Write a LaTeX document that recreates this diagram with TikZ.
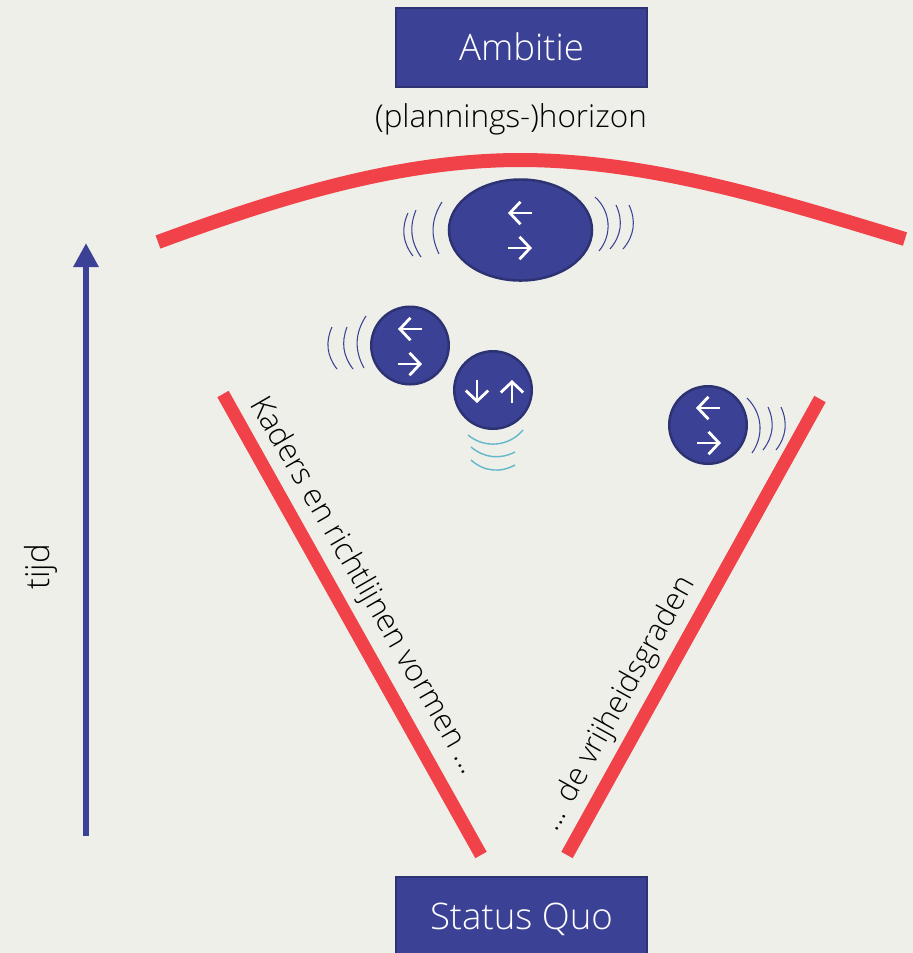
\documentclass[tikz,border=0pt]{standalone}
\usepackage{fontspec}
\setmainfont{Open Sans Light}[BoldFont={Open Sans}]
\usetikzlibrary{arrows.meta,shapes.geometric}
\definecolor{achtergrond}{HTML}{EEEFE9}
\definecolor{kaderblauw}{HTML}{3B4195}
\definecolor{randblauw}{HTML}{2D3272}
\definecolor{kaderrood}{HTML}{F14249}
\definecolor{golfteal}{HTML}{62B8CA}
\tikzset{
    kaderbox/.style={draw=randblauw, fill=kaderblauw, line width=0.6pt, text=white, minimum width=2.5cm, minimum height=0.79cm, text height=7.4pt, text depth=0pt, font=\fontsize{10.4}{12}\selectfont},
    bal/.style={draw=randblauw, fill=kaderblauw, line width=0.7pt, circle, minimum size=0.775cm, inner sep=0pt},
    pijltje/.style={white, line width=0.8pt, -{Straight Barb[length=3pt,width=6.4pt]}},
    golf/.style={kaderblauw, line width=0.3pt},
    tealgolf/.style={golfteal, line width=0.4pt},
    roodlijn/.style={kaderrood, line width=1.3mm},
    schuin/.style={font=\fontsize{8.8}{10}\selectfont}
}
\begin{document}
\begin{tikzpicture}[x=0.01cm,y=-0.01cm]
    \useasboundingbox (0,0) rectangle (913,953);
    \clip (0,0) rectangle (913,953);
    \fill[achtergrond] (0,0) rectangle (913,953);

    \node[kaderbox] (ambitie) at (521.5,47.5) {Ambitie};
    \node[kaderbox] (statusquo) at (521.5,916.5) {Status Quo};
    \node (horizon) at (511,119) [font=\fontsize{8.95}{10}\selectfont] {(plannings-)horizon};

    \draw[kaderrood, line width=1.4mm] (158,242) .. controls (280,197) and (400,160) .. (520,160) .. controls (650,160) and (780,201) .. (905,239);
    \draw[roodlijn] (223,394) -- (481,855);
    \draw[roodlijn] (820,399) -- (567,855);

    \node[schuin, rotate=-60] (kaders) at (364,586) {Kaders en richtlijnen vormen ...};
    \node[schuin, rotate=61, font=\fontsize{8.7}{10}\selectfont] (vrijheid) at (619,704) {... de vrijheidsgraden};

    \coordinate (tijdstart) at (86,836);
    \coordinate (tijdeind) at (86,243);
    \draw[kaderblauw, line width=0.6mm, -{Triangle[length=0.24cm,width=0.24cm]}] (tijdstart) -- (tijdeind);
    \node[rotate=90, font=\fontsize{9.4}{10}\selectfont] (tijd) at (41,567) {tijd};

    \node[bal, ellipse, minimum width=1.43cm, minimum height=1.01cm] (balgroot) at (520.5,230) {};
    \node[bal] (ballinks) at (410,345.5) {};
    \node[bal] (balmidden) at (493,390) {};
    \node[bal] (balrechts) at (708,425) {};

    \foreach \xa/\y in {532/213,422/329,720/408}
        \draw[pijltje] (\xa,\y) -- ++(-24,0);
    \foreach \x/\y in {508/248,398/364,697/443}
        \draw[pijltje] (\x,\y) -- ++(24,0);
    \draw[pijltje] (477,380) -- (477,403);
    \draw[pijltje] (512,403) -- (512,380);

    \draw[golf] (442,202) to[bend right=29] (439,254);
    \draw[golf] (416,210) to[bend right=28] (421,257);
    \draw[golf] (408,213) to[bend right=31] (413,256);
    \draw[golf] (595,197) to[bend left=44] (599,251);
    \draw[golf] (616,205) to[bend left=33] (610,249);
    \draw[golf] (629,205) to[bend left=33] (623,249);

    \draw[golf] (366,316) to[bend right=31] (364,368);
    \draw[golf] (347,327) to[bend right=29] (353,369);
    \draw[golf] (332,327) to[bend right=31] (337,369);

    \draw[tealgolf] (468,435) to[bend right=45] (523,430);
    \draw[tealgolf] (471,447) to[bend right=33] (515,452);
    \draw[tealgolf] (471,460) to[bend right=35] (515,465);

    \draw[golf] (747,398) to[bend left=40] (752,453);
    \draw[golf] (768,407) to[bend left=31] (763,450);
    \draw[golf] (781,407) to[bend left=31] (776,450);
\end{tikzpicture}
\end{document}
